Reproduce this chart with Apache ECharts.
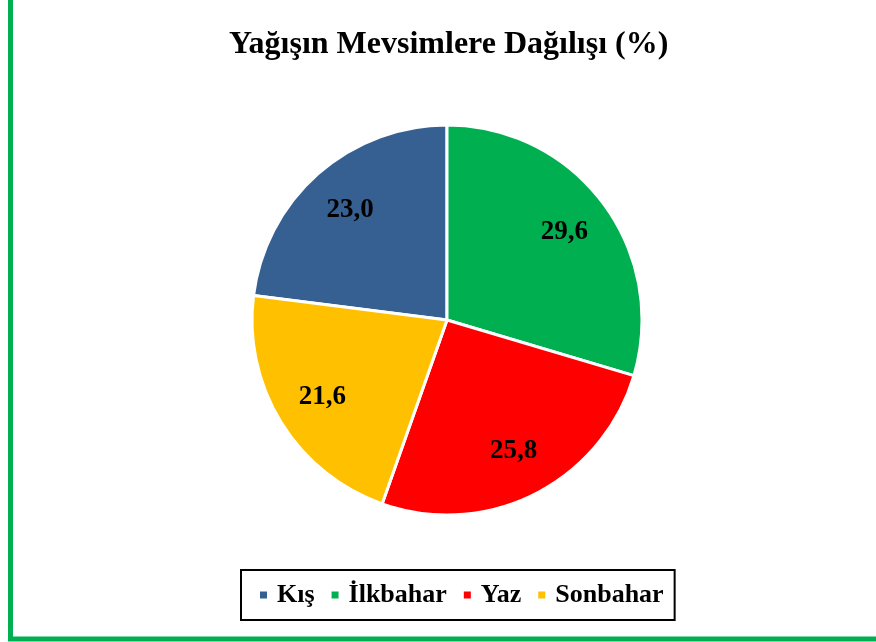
<!DOCTYPE html>
<html><head><meta charset="utf-8">
<script src="https://cdn.jsdelivr.net/npm/echarts@6/dist/echarts.min.js"></script>
<style>html,body{margin:0;padding:0;background:#fff}#c{width:876px;height:642px}</style>
</head><body><div id="c"></div>
<script>
const categories = ['Kış', 'İlkbahar', 'Yaz', 'Sonbahar'];
const values = [23.0, 29.6, 25.8, 21.6];
const colors = ['#376092', '#00B050', '#FF0000', '#FFC000'];
const title = 'Yağışın Mevsimlere Dağılışı (%)';

const data = categories.map((n, i) => ({ name: n, value: values[i], itemStyle: { color: colors[i] } }));
const font = '"Liberation Serif", "Times New Roman", serif';
const startAngle = 90 + values[0] * 3.6;

const chart = echarts.init(document.getElementById('c'), null, { renderer: 'canvas' });
chart.setOption({
  animation: false,
  backgroundColor: '#fff',
  title: {
    text: title, left: 224, top: 24,
    textStyle: { fontFamily: font, fontWeight: 'bold', fontSize: 32, color: '#000' }
  },
  graphic: [{
    type: 'rect', silent: true, z: 100,
    shape: { x: 10.5, y: -3, width: 880, height: 642 },
    style: { fill: 'none', stroke: '#00B050', lineWidth: 5 }
  }],
  legend: {
    data: categories, left: 241, top: 570, orient: 'horizontal',
    itemWidth: 9, itemHeight: 9, itemGap: 15, icon: 'rect',
    borderColor: '#000', borderWidth: 2, padding: [12, 11, 12, 17],
    textStyle: { fontFamily: font, fontWeight: 'bold', fontSize: 26, color: '#000', padding: [0, 0, 0, 4] }
  },
  series: [{
    type: 'pie', center: [447, 320], radius: [0, 195],
    startAngle: startAngle, clockwise: true,
    data: data,
    itemStyle: { borderColor: '#fff', borderWidth: 3 },
    label: { show: false }, labelLine: { show: false },
    emphasis: { disabled: true }
  }, {
    type: 'pie', center: [447, 320], radius: [92, 195],
    startAngle: startAngle, clockwise: true, silent: true,
    data: data.map(d => ({ name: d.name, value: d.value, itemStyle: { color: 'rgba(0,0,0,0)' } })),
    itemStyle: { borderWidth: 0 },
    label: {
      show: true, position: 'inside',
      formatter: p => p.value.toFixed(1).replace('.', ','),
      fontFamily: font, fontWeight: 'bold', fontSize: 27, color: '#000'
    },
    labelLine: { show: false },
    emphasis: { disabled: true }
  }]
});
</script></body></html>
